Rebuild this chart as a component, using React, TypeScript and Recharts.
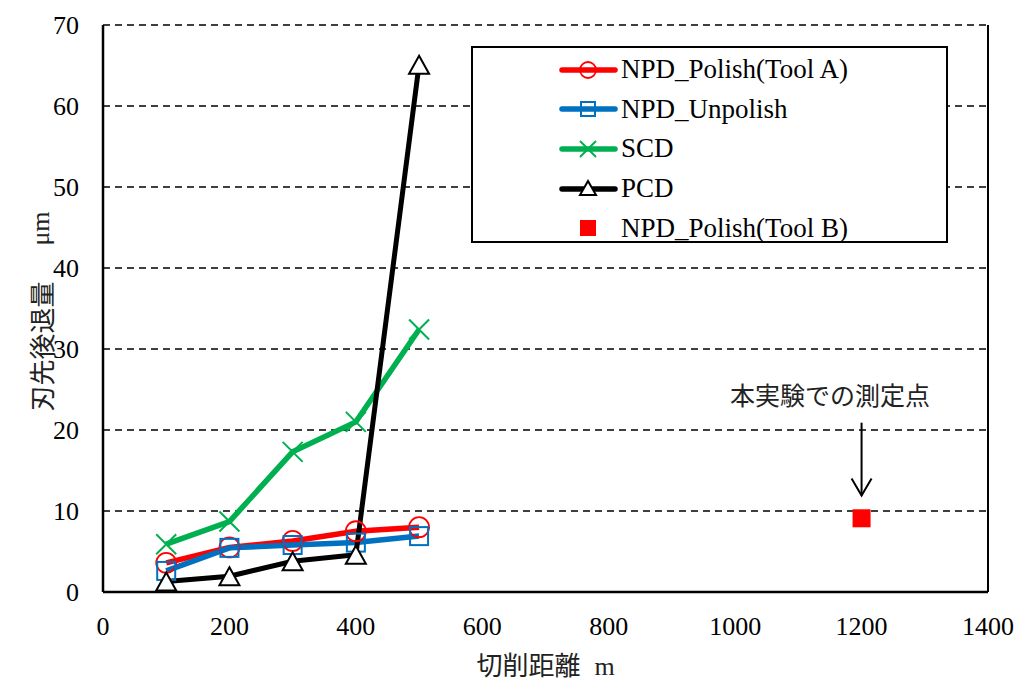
import React from 'react';
import {
  ComposedChart,
  Line,
  Scatter,
  XAxis,
  YAxis,
  CartesianGrid,
  Legend,
  ReferenceLine,
  ReferenceDot,
} from 'recharts';

const distances = [100, 200, 300, 400, 500];
const polishA = [3.6, 5.5, 6.3, 7.5, 8.0];
const unpolish = [2.6, 5.45, 5.8, 6.1, 6.9];
const scd = [5.9, 8.7, 17.3, 21.0, 32.4];
const pcd = [1.3, 1.95, 3.8, 4.6, 65.1];
const polishB = [{ x: 1200, y: 9.1 }];

const xTicks = [0, 200, 400, 600, 800, 1000, 1200, 1400];
const yTicks = [0, 10, 20, 30, 40, 50, 60, 70];

const data = distances.map((x, i) => ({
  x,
  polishA: polishA[i],
  unpolish: unpolish[i],
  scd: scd[i],
  pcd: pcd[i],
}));

const SERIF = "'Liberation Serif', serif";
const CJK = "'Noto Sans CJK JP', sans-serif";
const RED = '#FF0000';
const BLUE = '#0070C0';
const GREEN = '#00B050';

const CircleDot = ({ cx, cy, index }: any) => (
  <circle key={`c-${index}`} cx={cx} cy={cy} r={10} fill="none" stroke={RED} strokeWidth={1.8} />
);

const SquareDot = ({ cx, cy, index }: any) => (
  <rect key={`s-${index}`} x={cx - 9} y={cy - 9} width={18} height={18} fill="none" stroke={BLUE} strokeWidth={2} />
);

const CrossDot = ({ cx, cy, index }: any) => (
  <path key={`x-${index}`} d={`M${cx - 10},${cy - 10}L${cx + 10},${cy + 10}M${cx - 10},${cy + 10}L${cx + 10},${cy - 10}`} stroke={GREEN} strokeWidth={2} />
);

const TriangleDot = ({ cx, cy, index }: any) => (
  <path key={`t-${index}`} d={`M${cx},${cy - 9}L${cx + 10},${cy + 9}L${cx - 10},${cy + 9}Z`} fill="#fff" stroke="#000" strokeWidth={2} />
);

const legendRows = [
  { name: 'NPD_Polish(Tool A)', color: RED, marker: 'circle' },
  { name: 'NPD_Unpolish', color: BLUE, marker: 'square' },
  { name: 'SCD', color: GREEN, marker: 'cross' },
  { name: 'PCD', color: '#000', marker: 'triangle' },
  { name: 'NPD_Polish(Tool B)', color: RED, marker: 'filled' },
];

const LegendIcon = ({ color, marker }: { color: string; marker: string }) => {
  const cx = 29;
  const cy = 10;
  return (
    <svg width={60} height={20} style={{ display: 'block', overflow: 'visible' }}>
      {marker !== 'filled' && (
        <line x1={3} y1={cy} x2={56} y2={cy} stroke={color} strokeWidth={5.5} strokeLinecap="round" />
      )}
      {marker === 'circle' && <circle cx={cx} cy={cy} r={8} fill="none" stroke={RED} strokeWidth={1.8} />}
      {marker === 'square' && <rect x={cx - 7} y={cy - 7} width={14} height={14} fill="none" stroke={BLUE} strokeWidth={2} />}
      {marker === 'cross' && (
        <path d={`M${cx - 8},${cy - 8}L${cx + 8},${cy + 8}M${cx - 8},${cy + 8}L${cx + 8},${cy - 8}`} stroke={GREEN} strokeWidth={2} />
      )}
      {marker === 'triangle' && (
        <path d={`M${cx},${cy - 8}L${cx + 8},${cy + 6}L${cx - 8},${cy + 6}Z`} fill="#fff" stroke="#000" strokeWidth={2} />
      )}
      {marker === 'filled' && <rect x={cx - 8} y={cy - 8} width={16} height={16} fill={RED} />}
    </svg>
  );
};

const renderLegend = () => (
  <div
    style={{
      boxSizing: 'border-box',
      width: 477,
      height: 197,
      border: '2px solid #000',
      background: '#fff',
      paddingTop: 2,
      fontFamily: SERIF,
      fontSize: 27,
      color: '#000',
    }}
  >
    {legendRows.map((row) => (
      <div key={row.name} style={{ display: 'flex', alignItems: 'center', height: 39.6, paddingLeft: 86 }}>
        <LegendIcon color={row.color} marker={row.marker} />
        <span style={{ marginLeft: 2, lineHeight: '27px', whiteSpace: 'nowrap' }}>{row.name}</span>
      </div>
    ))}
  </div>
);

const ArrowHead = ({ cx, cy }: any) => (
  <path d={`M${cx - 10},${cy - 17}L${cx},${cy}L${cx + 10},${cy - 17}`} fill="none" stroke="#000" strokeWidth={2} />
);

const NoteText = ({ cx, cy }: any) => (
  <text x={cx} y={cy} textAnchor="middle" dominantBaseline="central" fontFamily={CJK} fontSize={25} fill="#222">
    本実験での測定点
  </text>
);

export default function App() {
  return (
    <div style={{ position: 'absolute', left: 0, top: 0, width: 1018, height: 682, background: '#fff' }}>
      <ComposedChart
        width={1018}
        height={682}
        data={data}
        margin={{ top: 25, right: 30, bottom: 30, left: 0 }}
      >
        <CartesianGrid vertical={false} stroke="#000" strokeWidth={1.6} strokeDasharray="7 5" />
        <XAxis
          type="number"
          dataKey="x"
          domain={[0, 1400]}
          ticks={xTicks}
          height={60}
          axisLine={{ stroke: '#000', strokeWidth: 2.5 }}
          tickLine={false}
          tickSize={0}
          tickMargin={25}
          tick={{ fill: '#000', fontSize: 26, fontFamily: SERIF }}
          label={{
            content: ({ viewBox }: any) => (
              <text
                x={viewBox.x + viewBox.width / 2}
                y={viewBox.y + 83}
                textAnchor="middle"
                fontSize={26}
                fill="#222"
              >
                <tspan fontFamily={CJK}>切削距離</tspan>
                <tspan fontFamily={SERIF} dx={14}>m</tspan>
              </text>
            ),
          }}
        />
        <YAxis
          type="number"
          domain={[0, 70]}
          ticks={yTicks}
          width={103}
          axisLine={{ stroke: '#000', strokeWidth: 2.5 }}
          tickLine={false}
          tickSize={0}
          tickMargin={24}
          tick={{ fill: '#000', fontSize: 26, fontFamily: SERIF }}
          label={{
            content: ({ viewBox }: any) => {
              const cx = 40;
              const cy = viewBox.y + viewBox.height / 2 + 3;
              return (
                <text
                  x={cx}
                  y={cy}
                  transform={`rotate(-90 ${cx} ${cy})`}
                  textAnchor="middle"
                  dominantBaseline="central"
                  fontSize={26}
                  fill="#222"
                >
                  <tspan fontFamily={CJK}>刃先後退量</tspan>
                  <tspan fontFamily={SERIF} dx={36}>μm</tspan>
                </text>
              );
            },
          }}
        />
        <ReferenceLine x={1400} stroke="#000" strokeWidth={2} />
        <Line
          dataKey="polishA"
          stroke={RED}
          strokeWidth={5.5}
          dot={CircleDot}
          activeDot={false}
          isAnimationActive={false}
        />
        <Line
          dataKey="unpolish"
          stroke={BLUE}
          strokeWidth={5.5}
          dot={SquareDot}
          activeDot={false}
          isAnimationActive={false}
        />
        <Line
          dataKey="scd"
          stroke={GREEN}
          strokeWidth={5.5}
          dot={CrossDot}
          activeDot={false}
          isAnimationActive={false}
        />
        <Line
          dataKey="pcd"
          stroke="#000"
          strokeWidth={5}
          dot={TriangleDot}
          activeDot={false}
          isAnimationActive={false}
        />
        <Scatter
          data={polishB}
          dataKey="y"
          fill={RED}
          isAnimationActive={false}
          shape={({ cx, cy }: any) => <rect x={cx - 9} y={cy - 9} width={18} height={18} fill={RED} />}
        />
        <ReferenceLine
          segment={[
            { x: 1200, y: 20.9 },
            { x: 1200, y: 11.9 },
          ]}
          stroke="#000"
          strokeWidth={2}
        />
        <ReferenceDot x={1200} y={11.9} shape={ArrowHead} />
        <ReferenceDot x={1150} y={24.4} shape={NoteText} />
        <Legend
          layout="vertical"
          align="center"
          verticalAlign="middle"
          content={renderLegend}
          wrapperStyle={{ left: 471, top: 46, width: 477, height: 197 }}
        />
      </ComposedChart>
    </div>
  );
}
